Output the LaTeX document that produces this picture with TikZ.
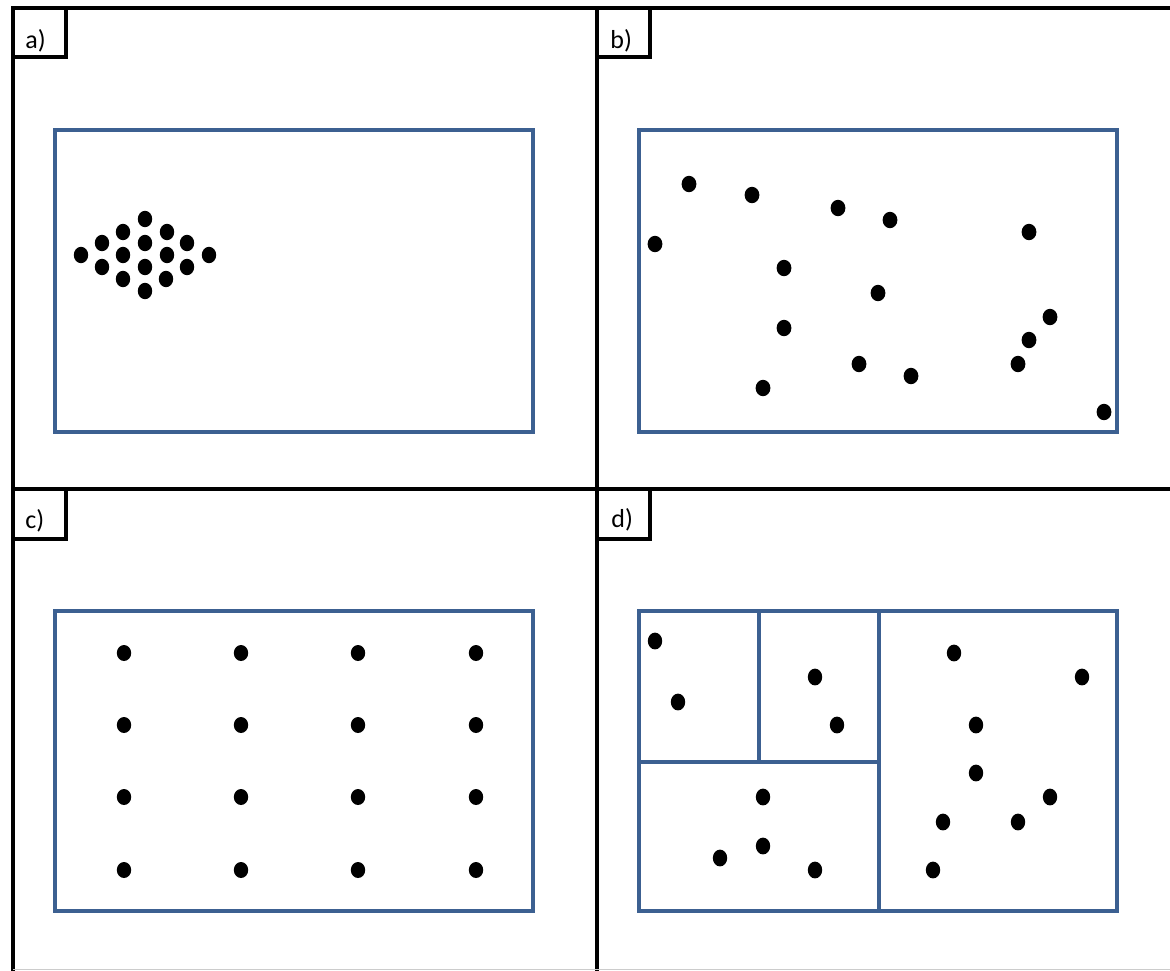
\documentclass[tikz,border=0pt]{standalone}
\usepackage{fontspec}
\setmainfont{Carlito}
\definecolor{frameblue}{RGB}{60,96,145}
\begin{document}
\begin{tikzpicture}[x=0.5pt,y=-0.5pt,
  frameline/.style={line width=2pt,black},
  labbox/.style={line width=2pt,black},
  plot/.style={line width=1.6pt,frameblue},
  lab/.style={inner sep=0pt,anchor=base west,font=\fontsize{13}{15}\selectfont},
  dot/.style={fill=black}]
\useasboundingbox (0,0) rectangle (1170,970);
% outer grid
\draw[frameline] (11,8) -- (1172,8);
\draw[frameline] (13,8) -- (13,972);
\draw[frameline] (597,8) -- (597,972);
\draw[frameline] (13,489) -- (1172,489);
\draw[gray!40,line width=0.5pt] (13,969) -- (1170,969);
% label boxes
\draw[labbox] (13,8) rectangle (66,57);
\draw[labbox] (597,8) rectangle (650,57);
\draw[labbox] (13,489) rectangle (66,539);
\draw[labbox] (597,489) rectangle (650,539);
\node[lab] (la) at (25,48) {a)};
\node[lab] (lb) at (610,48) {b)};
\node[lab] (lc) at (25,528) {c)};
\node[lab] (ld) at (611,527) {d)};
% plot rectangles
\draw[plot] (55,130) rectangle (533,432);
\draw[plot] (639,130) rectangle (1117,432);
\draw[plot] (55,611) rectangle (533,911);
\draw[plot] (639,611) rectangle (1117,911);
\draw[plot] (759,611) -- (759,762);
\draw[plot] (879,611) -- (879,911);
\draw[plot] (639,762) -- (879,762);
% panel a: diamond cluster
\foreach \p in {(145,219),(123,232),(167,232),(102,243),(145,243),(187,243),
  (81,255),(123,255),(167,255),(209,255),(102,267),(145,267),(187,267),
  (123,279),(166,279),(145,291)}
  \fill[dot] \p ellipse[x radius=3.6pt,y radius=4.1pt];
% panel b: random
\foreach \p in {(689,184),(752,195),(838,208),(890,220),(1029,232),(655,244),
  (784,268),(878,293),(1050,317),(784,328),(1029,340),(859,364),(1018,364),
  (911,376),(763,388),(1104,412)}
  \fill[dot] \p ellipse[x radius=3.7pt,y radius=4.1pt];
% panel c: grid
\foreach \xx in {124,241,358,476}
  \foreach \yy in {653,725,797,870}
    \fill[dot] (\xx,\yy) ellipse[x radius=3.6pt,y radius=4pt];
% panel d: partitioned
\foreach \p in {(655,641),(678,702),(815,677),(837,725),(954,653),(1082,677),
  (976,725),(976,773),(1050,797),(763,797),(943,822),(1018,822),(763,846),
  (720,858),(815,870),(933,870)}
  \fill[dot] \p ellipse[x radius=3.6pt,y radius=4.2pt];
\end{tikzpicture}
\end{document}
